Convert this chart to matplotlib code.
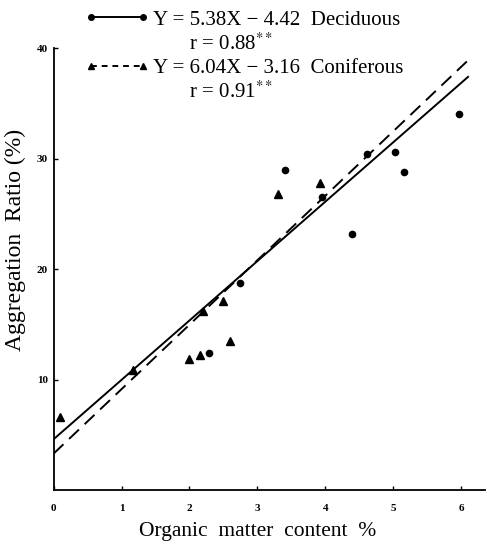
import matplotlib
matplotlib.use('Agg')
import matplotlib.pyplot as plt
from matplotlib.lines import Line2D

plt.rcParams['font.family'] = ['Liberation Serif', 'DejaVu Serif']
plt.rcParams['mathtext.fontset'] = 'stix'

# Deciduous forest soils (dots)
dec_x = [2.29, 2.75, 3.41, 3.95, 4.39, 4.62, 5.03, 5.15, 5.97]
dec_y = [12.4, 18.7, 29.0, 26.5, 23.2, 30.4, 30.6, 28.8, 34.0]
# Coniferous forest soils (triangles)
con_x = [0.10, 1.17, 2.00, 2.16, 2.20, 2.50, 2.60, 3.30, 3.92]
con_y = [6.6, 10.9, 11.9, 12.2, 16.2, 17.1, 13.5, 26.8, 27.8]

# regression lines as drawn (end points)
dec_line_x = [0.0, 6.1]
dec_line_y = [4.6, 37.4]
con_line_x = [0.0, 6.1]
con_line_y = [3.3, 38.9]

legend_text = ['Y = 5.38X \u2212 4.42  Deciduous',
               '       r = 0.88$^{**}$',
               'Y = 6.04X \u2212 3.16  Coniferous',
               '       r = 0.91$^{**}$']

xticks = [0, 1, 2, 3, 4, 5, 6]
yticks = [10, 20, 30, 40]

fig = plt.figure(figsize=(4.87, 5.47), dpi=100)
ax = fig.add_axes([0.110, 0.104, 0.886, 0.808])

ax.plot(dec_line_x, dec_line_y, color='black', lw=1.4)
ax.plot(con_line_x, con_line_y, color='black', lw=1.4, dashes=(7, 4))
ax.plot(dec_x, dec_y, 'o', color='black', ms=4.5, clip_on=False)
ax.plot(con_x, con_y, '^', color='black', ms=6, clip_on=False)

ax.set_xlim(0, 6.35)
ax.set_ylim(0, 40)
ax.set_xticks(xticks)
ax.set_yticks(yticks)
ax.tick_params(direction='in', length=3, width=1, labelsize=8)
ax.tick_params(axis='x', pad=10)
ax.tick_params(axis='y', pad=4)
for lab in ax.get_xticklabels() + ax.get_yticklabels():
    lab.set_fontweight('bold')
for s in ['top', 'right']:
    ax.spines[s].set_visible(False)
for s in ['left', 'bottom']:
    ax.spines[s].set_linewidth(1.3)

ax.set_xlabel('Organic  matter  content  %', fontsize=15.5)
ax.xaxis.set_label_coords(0.474, -0.073)
ax.set_ylabel('Aggregation  Ratio (%)', fontsize=17)
ax.yaxis.set_label_coords(-0.064, 0.566)

blank = Line2D([], [], color='none')
handles = [
    Line2D([], [], color='black', lw=1.4, marker='o', ms=4),
    blank,
    Line2D([], [], color='black', lw=1.4, dashes=(3, 2.5), marker='^', ms=5),
    blank,
]
fig.legend(handles, legend_text, loc='upper left',
           bbox_to_anchor=(85 / 487, 1 - 10 / 547), frameon=False, numpoints=2,
           handlelength=3.1, handletextpad=0.15, labelspacing=0.18,
           borderpad=0, borderaxespad=0, fontsize=15)

fig.savefig('out.png', dpi=100)
